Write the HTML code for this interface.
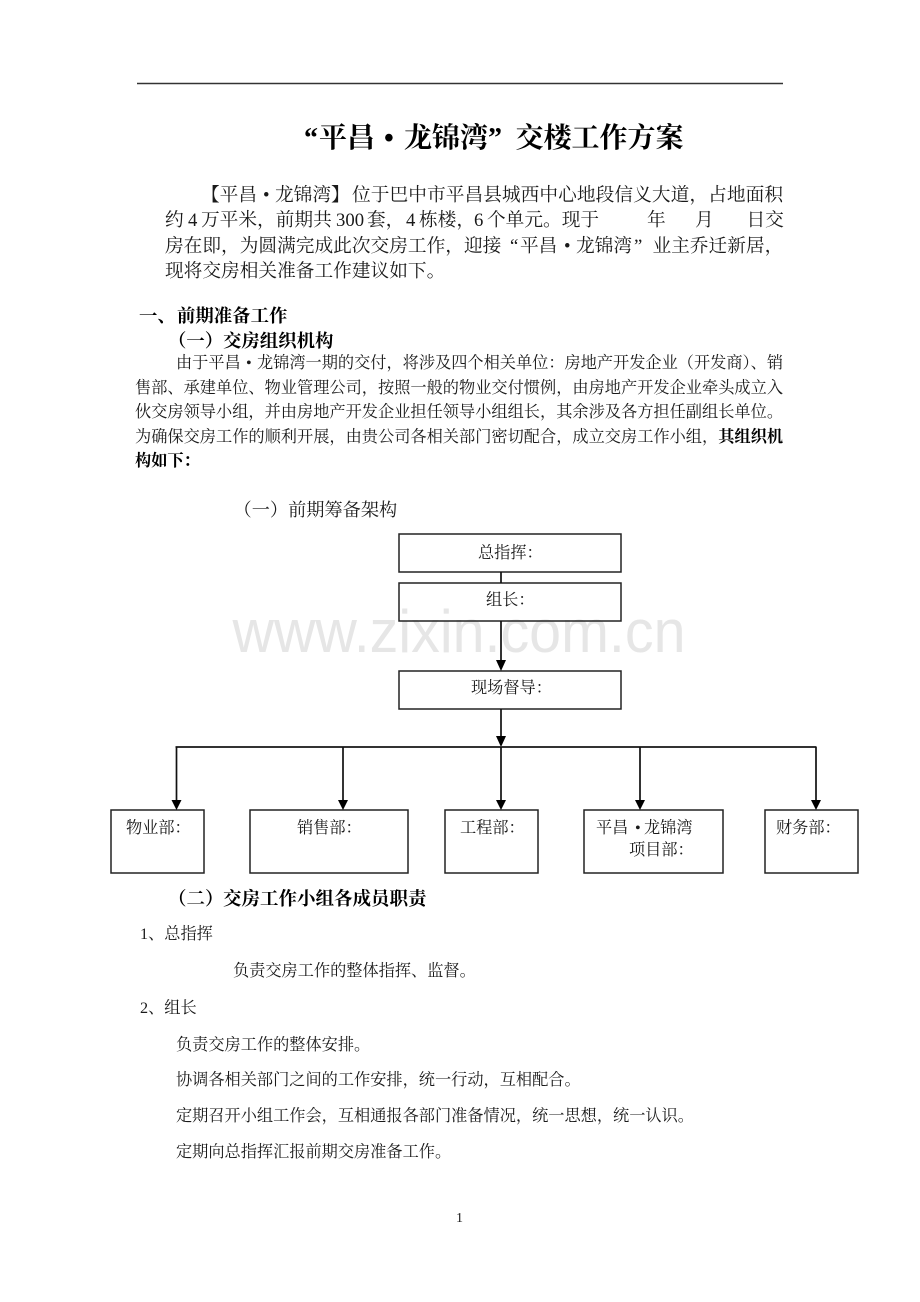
<!DOCTYPE html>
<html><head><meta charset="utf-8">
<style>
html,body{margin:0;padding:0;background:#fff;width:920px;height:1302px;overflow:hidden}
svg{display:block}
text{font-family:"Liberation Serif","Noto Serif CJK SC",serif;fill:#1a1a1a;white-space:pre}
.b{font-weight:bold;fill:#000}
.s{font-size:16.2px}
.m{font-size:18.7px}
.h{font-size:18.4px}
.t{font-size:28px}
.box{fill:none;stroke:#222;stroke-width:1.5}
.ln{stroke:#111;stroke-width:1.7;fill:none}
</style></head>
<body>
<svg width="920" height="1302" viewBox="0 0 920 1302" xmlns="http://www.w3.org/2000/svg">
<line x1="137" y1="83.500" x2="783" y2="83.500" stroke="#333" stroke-width="1.6"/>
<text class="b t" y="147"><tspan x="304">“</tspan><tspan x="319">平昌</tspan><tspan x="384">•</tspan><tspan x="404">龙锦湾</tspan><tspan x="488">”</tspan><tspan x="515.500">交楼工作方案</tspan></text>

<text class="m" y="201"><tspan x="201">【平昌</tspan><tspan x="263">•</tspan><tspan x="275">龙锦湾</tspan><tspan x="331">】</tspan></text>
<text class="m" x="352" y="201" textLength="431" lengthAdjust="spacing">位于巴中市平昌县城西中心地段信义大道，占地面积</text>
<text class="m" y="226"><tspan x="165">约</tspan><tspan x="188">4</tspan><tspan x="201">万平米，前期共</tspan><tspan x="336">300</tspan><tspan x="367">套，</tspan><tspan x="406">4</tspan><tspan x="419">栋楼，</tspan><tspan x="474">6</tspan><tspan x="487">个单元。现于</tspan><tspan x="647">年</tspan><tspan x="695">月</tspan><tspan x="746.500">日交</tspan></text>
<text class="m" y="252"><tspan x="165">房在即，为圆满完成此次交房工作，迎接</tspan><tspan x="510">“</tspan><tspan x="520">平昌</tspan><tspan x="564">•</tspan><tspan x="576">龙锦湾</tspan><tspan x="634">”</tspan><tspan x="652.500">业主乔迁新居，</tspan></text>
<text class="m" x="165" y="277">现将交房相关准备工作建议如下。</text>

<text class="b h" y="322"><tspan x="139">一、</tspan><tspan x="177">前期准备工作</tspan></text>
<text class="b h" y="347"><tspan x="168">（一）</tspan><tspan x="223">交房组织机构</tspan></text>

<text class="s" x="176" y="368">由于平昌</text>
<text class="s" x="246" y="368">•</text>
<text class="s" x="257" y="368" textLength="526" lengthAdjust="spacing">龙锦湾一期的交付，将涉及四个相关单位：房地产开发企业（开发商）、销</text>
<text class="s" x="135" y="393" textLength="648" lengthAdjust="spacing">售部、承建单位、物业管理公司，按照一般的物业交付惯例，由房地产开发企业牵头成立入</text>
<text class="s" x="135" y="417" textLength="648" lengthAdjust="spacing">伙交房领导小组，并由房地产开发企业担任领导小组组长，其余涉及各方担任副组长单位。</text>
<text class="s" x="135" y="442" textLength="648" lengthAdjust="spacing">为确保交房工作的顺利开展，由贵公司各相关部门密切配合，成立交房工作小组，<tspan class="b">其组织机</tspan></text>
<text class="s b" x="135" y="466">构如下：</text>

<text style="font-size:18.2px" x="233.500" y="516">（一）前期筹备架构</text>

<text x="232.500" y="652" textLength="453" lengthAdjust="spacingAndGlyphs" style="font-family:'Liberation Sans',sans-serif;font-size:60px;fill:#e6e6e6">www.zixin.com.cn</text>

<rect class="box" x="399" y="534" width="222" height="38"/>
<rect class="box" x="399" y="583" width="222" height="38"/>
<rect class="box" x="399" y="671" width="222" height="38"/>
<rect class="box" x="111" y="810" width="93" height="63"/>
<rect class="box" x="250" y="810" width="158" height="63"/>
<rect class="box" x="445" y="810" width="93" height="63"/>
<rect class="box" x="584" y="810" width="139" height="63"/>
<rect class="box" x="765" y="810" width="93" height="63"/>

<line class="ln" x1="501" y1="572" x2="501" y2="583"/>
<line class="ln" x1="501" y1="621" x2="501" y2="662"/>
<polygon points="496,660 506,660 501,671" fill="#000"/>
<line class="ln" x1="501" y1="709" x2="501" y2="738"/>
<polygon points="496,736 506,736 501,747" fill="#000"/>
<line x1="175.500" y1="747" x2="816.500" y2="747" stroke="#333" stroke-width="1.9"/>
<line class="ln" x1="176.500" y1="747" x2="176.500" y2="802"/><polygon points="171.500,800 181.500,800 176.500,810" fill="#000"/>
<line class="ln" x1="343" y1="747" x2="343" y2="802"/><polygon points="338,800 348,800 343,810" fill="#000"/>
<line class="ln" x1="501" y1="747" x2="501" y2="802"/><polygon points="496,800 506,800 501,810" fill="#000"/>
<line class="ln" x1="640" y1="747" x2="640" y2="802"/><polygon points="635,800 645,800 640,810" fill="#000"/>
<line class="ln" x1="816" y1="747" x2="816" y2="802"/><polygon points="811,800 821,800 816,810" fill="#000"/>

<text class="s" x="478" y="558">总指挥：</text>
<text class="s" x="486" y="605">组长：</text>
<text class="s" x="471" y="693">现场督导：</text>
<text class="s" x="126" y="833">物业部：</text>
<text class="s" x="297" y="833">销售部：</text>
<text class="s" x="460" y="833">工程部：</text>
<text class="s" y="833"><tspan x="596">平昌</tspan><tspan x="635">•</tspan><tspan x="644">龙锦湾</tspan></text>
<text class="s" x="629" y="855">项目部：</text>
<text class="s" x="776" y="833">财务部：</text>

<text class="b" style="font-size:18.5px" y="905"><tspan x="168">（二）</tspan><tspan x="223">交房工作小组各成员职责</tspan></text>

<text class="s" x="140" y="939">1、总指挥</text>
<text class="s" x="233" y="976">负责交房工作的整体指挥、监督。</text>
<text class="s" x="140" y="1013">2、组长</text>
<text class="s" x="176" y="1050">负责交房工作的整体安排。</text>
<text class="s" x="176" y="1085">协调各相关部门之间的工作安排，统一行动，互相配合。</text>
<text class="s" x="176" y="1121">定期召开小组工作会，互相通报各部门准备情况，统一思想，统一认识。</text>
<text class="s" x="176" y="1157">定期向总指挥汇报前期交房准备工作。</text>
<text x="456" y="1222" style="font-size:14px">1</text>
</svg>
</body></html>
